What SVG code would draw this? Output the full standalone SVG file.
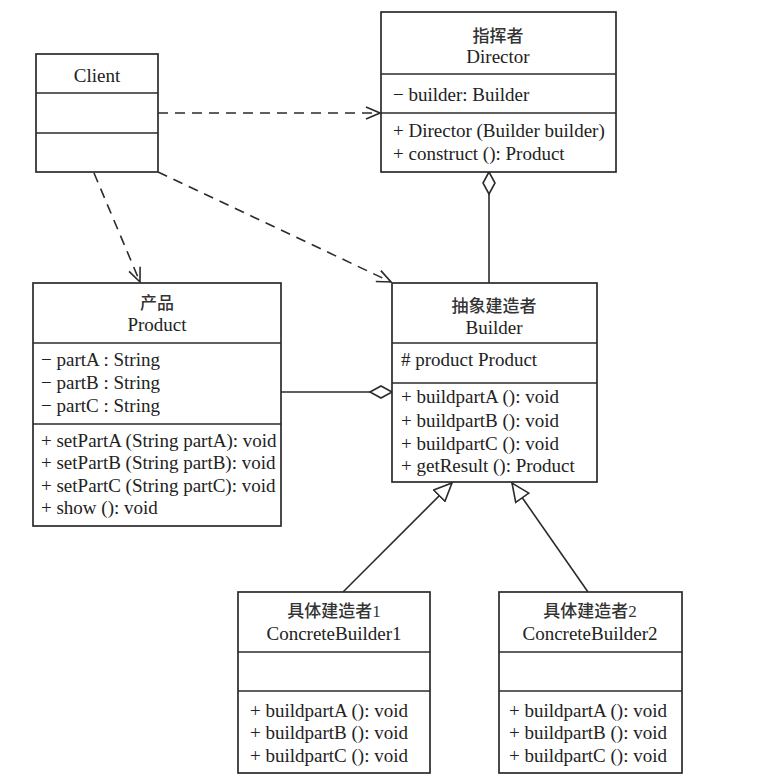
<svg xmlns="http://www.w3.org/2000/svg" width="779" height="775" viewBox="0 0 779 775">
<style>
.box{fill:#fff;stroke:#2b2b2b;stroke-width:1.7}
.div{stroke:#2b2b2b;stroke-width:1.5}
.t{font-family:"Liberation Serif","Noto Sans CJK SC",serif;font-size:19px;fill:#222}
.c{text-anchor:middle}
.zh{font-family:"Liberation Serif","Noto Sans CJK SC",serif;font-size:17px;fill:#333;text-anchor:middle;font-weight:500}
.ln{fill:none;stroke:#2b2b2b;stroke-width:1.6}
.dash{stroke-dasharray:10 7}
.hollow{fill:#fff;stroke:#2b2b2b;stroke-width:1.6}
</style>
<defs>
<marker id="open" viewBox="0 0 16 14" refX="15" refY="7" markerWidth="16" markerHeight="14" markerUnits="userSpaceOnUse" orient="auto">
<path d="M1,1 L15,7 L1,13" fill="none" stroke="#2b2b2b" stroke-width="1.6"/>
</marker>
<marker id="tri" viewBox="0 0 20 18" refX="19" refY="9" markerWidth="20" markerHeight="18" markerUnits="userSpaceOnUse" orient="auto">
<path d="M1,1 L19,9 L1,17 Z" fill="#fff" stroke="#2b2b2b" stroke-width="1.6"/>
</marker>
</defs>
<rect width="779" height="775" fill="#fff"/>

<g id="connectors">
<line class="ln dash" x1="158" y1="113" x2="380" y2="113" marker-end="url(#open)"/>
<line class="ln dash" x1="94" y1="173" x2="140" y2="282" marker-end="url(#open)"/>
<line class="ln dash" x1="158" y1="172" x2="391" y2="282" marker-end="url(#open)"/>
<line class="ln" x1="489" y1="194" x2="489" y2="283"/>
<polygon class="hollow" points="489,172 483,183 489,194 495,183"/>
<line class="ln" x1="281" y1="392" x2="370" y2="392"/>
<polygon class="hollow" points="370,392 381,386 392,392 381,398"/>
<line class="ln" x1="343" y1="592" x2="452" y2="483" marker-end="url(#tri)"/>
<line class="ln" x1="588" y1="592" x2="512" y2="483" marker-end="url(#tri)"/>
</g>

<g id="director">
<rect class="box" x="381" y="12" width="235" height="160"/>
<line class="div" x1="381" y1="74" x2="616" y2="74"/>
<line class="div" x1="381" y1="113" x2="616" y2="113"/>
<text class="zh" x="498" y="42">指挥者</text>
<text class="t c" x="498" y="63">Director</text>
<text class="t" x="393" y="101">− builder: Builder</text>
<text class="t" x="393" y="137">+ Director (Builder builder)</text>
<text class="t" x="393" y="160">+ construct (): Product</text>
</g>

<g id="client">
<rect class="box" x="36" y="54" width="122" height="118"/>
<line class="div" x1="36" y1="93" x2="158" y2="93"/>
<line class="div" x1="36" y1="133" x2="158" y2="133"/>
<text class="t c" x="97" y="82">Client</text>
</g>

<g id="product">
<rect class="box" x="33" y="283" width="248" height="243"/>
<line class="div" x1="33" y1="343" x2="281" y2="343"/>
<line class="div" x1="33" y1="424" x2="281" y2="424"/>
<text class="zh" x="157" y="309">产品</text>
<text class="t c" x="157" y="331">Product</text>
<text class="t" x="41" y="366">− partA : String</text>
<text class="t" x="41" y="389">− partB : String</text>
<text class="t" x="41" y="412">− partC : String</text>
<text class="t" x="41" y="447">+ setPartA (String partA): void</text>
<text class="t" x="41" y="469">+ setPartB (String partB): void</text>
<text class="t" x="41" y="492">+ setPartC (String partC): void</text>
<text class="t" x="41" y="514">+ show (): void</text>
</g>

<g id="builder">
<rect class="box" x="392" y="283" width="205" height="199"/>
<line class="div" x1="392" y1="343" x2="597" y2="343"/>
<line class="div" x1="392" y1="383" x2="597" y2="383"/>
<text class="zh" x="494" y="312">抽象建造者</text>
<text class="t c" x="494" y="334">Builder</text>
<text class="t" x="401" y="366"># product Product</text>
<text class="t" x="401" y="403">+ buildpartA (): void</text>
<text class="t" x="401" y="427">+ buildpartB (): void</text>
<text class="t" x="401" y="450">+ buildpartC (): void</text>
<text class="t" x="401" y="472">+ getResult (): Product</text>
</g>

<g id="concrete1">
<rect class="box" x="238" y="592" width="192" height="181"/>
<line class="div" x1="238" y1="652" x2="430" y2="652"/>
<line class="div" x1="238" y1="691" x2="430" y2="691"/>
<text class="zh" x="334" y="617">具体建造者1</text>
<text class="t c" x="334" y="640">ConcreteBuilder1</text>
<text class="t" x="250" y="717">+ buildpartA (): void</text>
<text class="t" x="250" y="739">+ buildpartB (): void</text>
<text class="t" x="250" y="762">+ buildpartC (): void</text>
</g>

<g id="concrete2">
<rect class="box" x="499" y="592" width="183" height="181"/>
<line class="div" x1="499" y1="652" x2="682" y2="652"/>
<line class="div" x1="499" y1="691" x2="682" y2="691"/>
<text class="zh" x="590" y="617">具体建造者2</text>
<text class="t c" x="590" y="640">ConcreteBuilder2</text>
<text class="t" x="509" y="717">+ buildpartA (): void</text>
<text class="t" x="509" y="739">+ buildpartB (): void</text>
<text class="t" x="509" y="762">+ buildpartC (): void</text>
</g>
</svg>
